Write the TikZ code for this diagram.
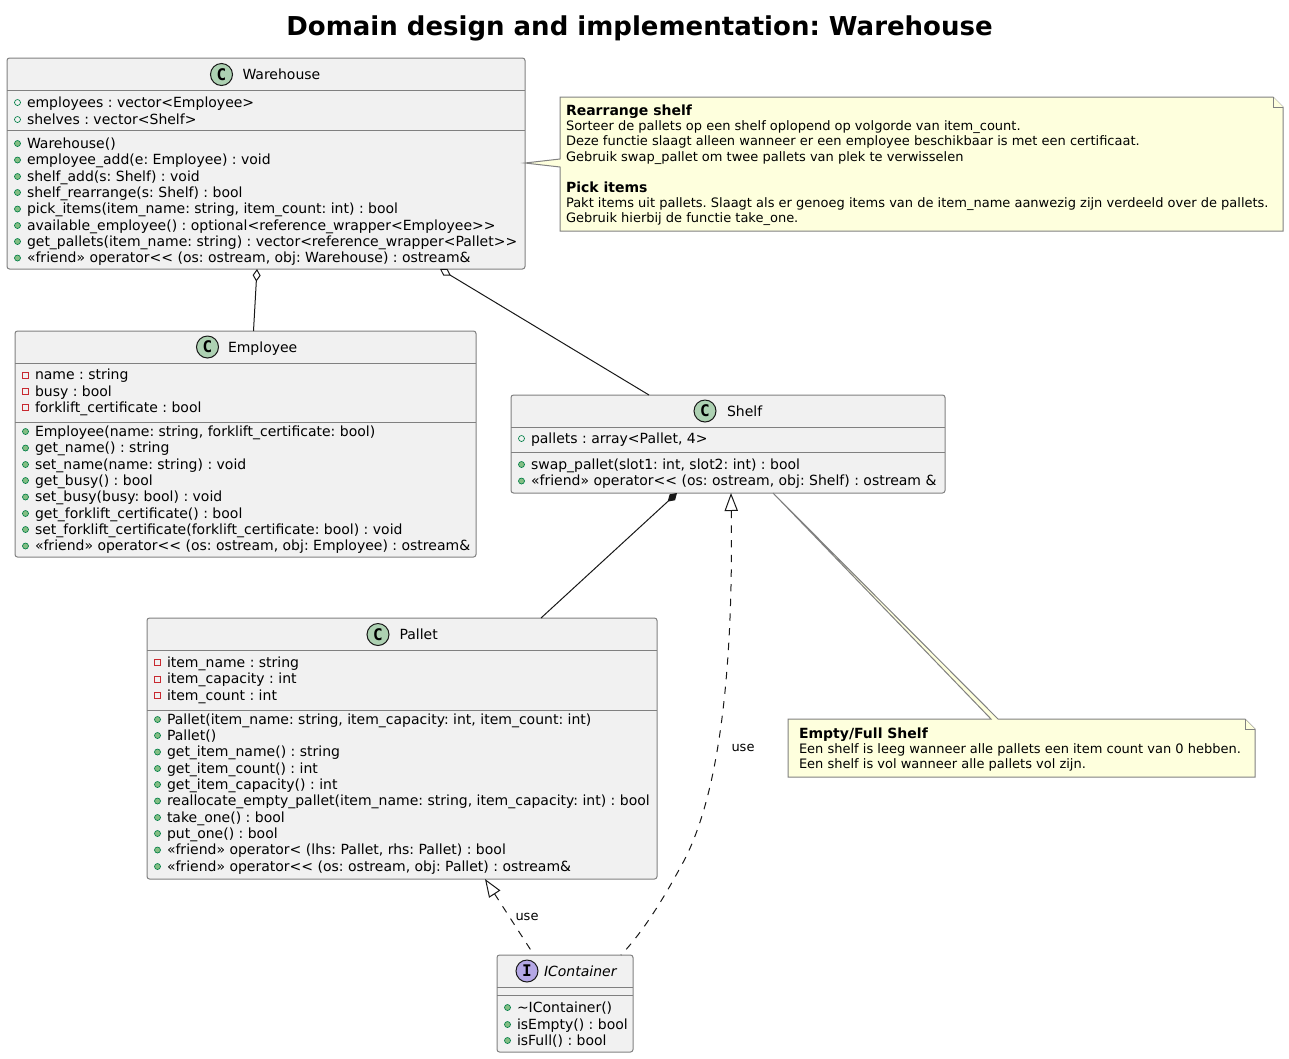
\documentclass[tikz,border=0pt]{standalone}
\usepackage{fontspec}
\setmainfont{DejaVu Sans}[Ligatures=TeXOff]
\newfontfamily\iconfont{DejaVu Sans Mono}
\frenchspacing
\usetikzlibrary{arrows.meta,calc}
\definecolor{boxfill}{HTML}{F1F1F1}
\definecolor{boxline}{HTML}{181818}
\definecolor{notefill}{HTML}{FEFFDD}
\definecolor{clsicon}{HTML}{ADD1B2}
\definecolor{ifcicon}{HTML}{B4A7E5}
\definecolor{pubfill}{HTML}{84BE84}
\definecolor{publine}{HTML}{038048}
\definecolor{privline}{HTML}{C82930}
\tikzset{x=0.75pt,y=-0.75pt,
 classbox/.style={draw=boxline!55!white,fill=boxfill,line width=0.75pt,rounded corners=1.9pt,anchor=north west,inner sep=0pt,outer sep=0pt},
 rowtext/.style={anchor=base west,inner sep=0pt,outer sep=0pt,font=\fontsize{10.5}{12}\selectfont},
 classname/.style={anchor=base west,inner sep=0pt,outer sep=0pt,font=\fontsize{10.5}{12}\selectfont},
 notetext/.style={anchor=base west,inner sep=0pt,outer sep=0pt,font=\fontsize{9.75}{12}\selectfont},
 notebold/.style={anchor=base west,inner sep=0pt,outer sep=0pt,font=\fontsize{10.5}{12}\selectfont\bfseries},
 linklabel/.style={anchor=center,inner sep=0pt,outer sep=0pt,font=\fontsize{9.75}{12}\selectfont},
 sepline/.style={draw=boxline!55!white,line width=0.75pt},
 notebody/.style={draw=boxline!55!white,fill=notefill,line width=0.75pt,line join=miter},
 link/.style={draw=boxline,line width=0.75pt},
 dashlink/.style={draw=boxline,line width=0.75pt,dash pattern=on 5.5pt off 5.5pt},
 aggtip/.style={{Diamond[open,fill=white,length=9.5pt,width=6pt]}-},
 comptip/.style={{Diamond[fill=boxline,length=9.5pt,width=6pt]}-},
 realtip/.style={{Triangle[open,fill=white,length=13.5pt,width=10pt]}-},
 icon/.style={circle,draw=boxline,line width=0.75pt,minimum size=16.5pt,inner sep=0pt,outer sep=0pt,font=\fontsize{12}{12}\selectfont\iconfont\bfseries}
}
% \classicon{name}{x}{y}{colour}{letter}
\newcommand{\classicon}[5]{\node[icon,fill=#4] (#1) at (#2,#3) {#5};}
% rows: marker + text
\newcommand{\rowpub}[4]{\fill[pubfill,draw=publine,line width=0.5pt] (#2-9.5,#3-4.5) circle[radius=2.25pt];\node[rowtext] (#1) at (#2,#3) {#4};}
\newcommand{\rowfld}[4]{\draw[publine,line width=0.5pt] (#2-9.5,#3-4.5) circle[radius=2.25pt];\node[rowtext] (#1) at (#2,#3) {#4};}
\newcommand{\rowprv}[4]{\draw[privline,line width=0.5pt] (#2-12.5,#3-7.5) rectangle ++(6,6);\node[rowtext] (#1) at (#2,#3) {#4};}
\begin{document}
\begin{tikzpicture}
\useasboundingbox (0,0) rectangle (1289,1058);
\node[anchor=base,inner sep=0pt,font=\fontsize{19.5}{24}\selectfont\bfseries] (title) at (639.5,35) {Domain design and implementation: Warehouse};

\node[classbox,minimum width=518*0.75pt,minimum height=211*0.75pt] (wh) at (7,58) {};
\node[classbox,minimum width=461*0.75pt,minimum height=226*0.75pt] (emp) at (15,331) {};
\node[classbox,minimum width=434*0.75pt,minimum height=98*0.75pt] (shelf) at (511,395) {};
\node[classbox,minimum width=510*0.75pt,minimum height=261*0.75pt] (pal) at (147,618) {};
\node[classbox,minimum width=136*0.75pt,minimum height=97*0.75pt] (ifc) at (497,955) {};

% Warehouse
\draw[sepline] (wh.north west |- 0,90.5) -- (wh.north east |- 0,90.5);
\draw[sepline] (wh.north west |- 0,130) -- (wh.north east |- 0,130);
\classicon{whicon}{221.5}{74.5}{clsicon}{C}
\node[classname] (whname) at (242.5,79.5) {Warehouse};
\rowfld{wh1}{27}{107}{employees : vector<Employee>}
\rowfld{wh2}{27}{124}{shelves : vector<Shelf>}
\rowpub{wh3}{27}{148}{Warehouse()}
\rowpub{wh4}{27}{164.5}{employee\_add(e: Employee) : void}
\rowpub{wh5}{27}{181}{shelf\_add(s: Shelf) : void}
\rowpub{wh6}{27}{197}{shelf\_rearrange(s: Shelf) : bool}
\rowpub{wh7}{27}{213.5}{pick\_items(item\_name: string, item\_count: int) : bool}
\rowpub{wh8}{27}{230}{available\_employee() : optional<reference\_wrapper<Employee>>}
\rowpub{wh9}{27}{246}{get\_pallets(item\_name: string) : vector<reference\_wrapper<Pallet>>}
\rowpub{wh10}{27}{262.5}{«friend» operator<< (os: ostream, obj: Warehouse) : ostream\&}

% Employee
\draw[sepline] (emp.north west |- 0,363.5) -- (emp.north east |- 0,363.5);
\draw[sepline] (emp.north west |- 0,422) -- (emp.north east |- 0,422);
\classicon{empicon}{207.5}{347}{clsicon}{C}
\node[classname] (empname) at (228,352) {Employee};
\rowprv{emp1}{35}{379.5}{name : string}
\rowprv{emp2}{35}{396}{busy : bool}
\rowprv{emp3}{35}{412}{forklift\_certificate : bool}
\rowpub{emp4}{35}{436}{Employee(name: string, forklift\_certificate: bool)}
\rowpub{emp5}{35}{452.5}{get\_name() : string}
\rowpub{emp6}{35}{469}{set\_name(name: string) : void}
\rowpub{emp7}{35}{485}{get\_busy() : bool}
\rowpub{emp8}{35}{501.5}{set\_busy(busy: bool) : void}
\rowpub{emp9}{35}{518}{get\_forklift\_certificate() : bool}
\rowpub{emp10}{35}{534}{set\_forklift\_certificate(forklift\_certificate: bool) : void}
\rowpub{emp11}{35}{550.5}{«friend» operator<< (os: ostream, obj: Employee) : ostream\&}

% Shelf
\draw[sepline] (shelf.north west |- 0,427.5) -- (shelf.north east |- 0,427.5);
\draw[sepline] (shelf.north west |- 0,452) -- (shelf.north east |- 0,452);
\classicon{shelficon}{705}{411}{clsicon}{C}
\node[classname] (shelfname) at (727,416) {Shelf};
\rowfld{shelf1}{531}{443}{pallets : array<Pallet, 4>}
\rowpub{shelf2}{531}{469}{swap\_pallet(slot1: int, slot2: int) : bool}
\rowpub{shelf3}{531}{485.5}{«friend» operator<< (os: ostream, obj: Shelf) : ostream \&}

% Pallet
\draw[sepline] (pal.north west |- 0,650.5) -- (pal.north east |- 0,650.5);
\draw[sepline] (pal.north west |- 0,710) -- (pal.north east |- 0,710);
\classicon{palicon}{378}{634.5}{clsicon}{C}
\node[classname] (palname) at (399.5,639.5) {Pallet};
\rowprv{pal1}{167}{667}{item\_name : string}
\rowprv{pal2}{167}{683.5}{item\_capacity : int}
\rowprv{pal3}{167}{700}{item\_count : int}
\rowpub{pal4}{167}{724}{Pallet(item\_name: string, item\_capacity: int, item\_count: int)}
\rowpub{pal5}{167}{740}{Pallet()}
\rowpub{pal6}{167}{756.5}{get\_item\_name() : string}
\rowpub{pal7}{167}{773}{get\_item\_count() : int}
\rowpub{pal8}{167}{789}{get\_item\_capacity() : int}
\rowpub{pal9}{167}{805.5}{reallocate\_empty\_pallet(item\_name: string, item\_capacity: int) : bool}
\rowpub{pal10}{167}{822}{take\_one() : bool}
\rowpub{pal11}{167}{838}{put\_one() : bool}
\rowpub{pal12}{167}{854.5}{«friend» operator< (lhs: Pallet, rhs: Pallet) : bool}
\rowpub{pal13}{167}{871}{«friend» operator<< (os: ostream, obj: Pallet) : ostream\&}

% IContainer
\draw[sepline] (ifc.north west |- 0,987) -- (ifc.north east |- 0,987);
\draw[sepline] (ifc.north west |- 0,995) -- (ifc.north east |- 0,995);
\classicon{ifcicon1}{527}{971}{ifcicon}{I}
\node[classname] (ifcname) at (544,976) {\itshape IContainer};
\rowpub{ifc1}{517}{1012}{\textasciitilde IContainer()}
\rowpub{ifc2}{517}{1029}{isEmpty() : bool}
\rowpub{ifc3}{517}{1045}{isFull() : bool}

% Notes
\node[inner sep=0pt,outer sep=0pt,minimum width=723*0.75pt,minimum height=134*0.75pt,anchor=north west] (noteA) at (560,97) {};
\draw[notebody] (noteA.north west) -- ($(noteA.north east)+(-10,0)$) -- ($(noteA.north east)+(0,10)$) -- (noteA.south east) -- (noteA.south west) -- ($(noteA.north west)+(0,70)$) -- ($(wh.north east)+(0,105)$) -- ($(noteA.north west)+(0,62)$) -- cycle;
\draw[notebody] ($(noteA.north east)+(-10,0)$) -- ($(noteA.north east)+(-10,10)$) -- ($(noteA.north east)+(0,10)$);
\node[notebold] (na0) at (566,115) {Rearrange shelf};
\node[notetext] (na1) at (566,130.5) {Sorteer de pallets op een shelf oplopend op volgorde van item\_count.};
\node[notetext] (na2) at (566,145.5) {Deze functie slaagt alleen wanneer er een employee beschikbaar is met een certificaat.};
\node[notetext] (na3) at (566,161) {Gebruik swap\_pallet om twee pallets van plek te verwisselen};
\node[notebold] (na4) at (566,192) {Pick items};
\node[notetext] (na5) at (566,207) {Pakt items uit pallets. Slaagt als er genoeg items van de item\_name aanwezig zijn verdeeld over de pallets.};
\node[notetext] (na6) at (566,222.5) {Gebruik hierbij de functie take\_one.};

\node[inner sep=0pt,outer sep=0pt,minimum width=467*0.75pt,minimum height=58*0.75pt,anchor=north west] (noteB) at (788,719) {};
\draw[notebody] (noteB.north west) -- ($(noteB.north west)+(203,0)$) -- ($(shelf.south east)+(-172,0)$) -- ($(noteB.north west)+(210,0)$) -- ($(noteB.north east)+(-10,0)$) -- ($(noteB.north east)+(0,10)$) -- (noteB.south east) -- (noteB.south west) -- cycle;
\draw[notebody] ($(noteB.north east)+(-10,0)$) -- ($(noteB.north east)+(-10,10)$) -- ($(noteB.north east)+(0,10)$);
\node[notebold] (nb0) at (799,738) {Empty/Full Shelf};
\node[notetext] (nb1) at (799,753) {Een shelf is leeg wanneer alle pallets een item count van 0 hebben.};
\node[notetext] (nb2) at (799,768.5) {Een shelf is vol wanneer alle pallets vol zijn.};

% Connectors
\draw[link,aggtip] ($(wh.south west)+(250,0)$) -- ($(emp.north west)+(238.5,0)$);
\draw[link,aggtip] ($(wh.south west)+(433,0)$) -- ($(shelf.north west)+(138,0)$);
\draw[link,comptip] ($(shelf.south west)+(166,0)$) -- ($(pal.north west)+(394,0)$);
\draw[dashlink,realtip] ($(shelf.south west)+(220,0)$) .. controls (733,640) and (725,790) .. (680,868) .. controls (667,892) and (645,930) .. ($(ifc.north west)+(124,0)$);
\draw[dashlink,realtip] ($(pal.south west)+(338,0)$) -- ($(ifc.north west)+(37,0)$);
\node[linklabel] (use1) at (743,748) {use};
\node[linklabel] (use2) at (527,917) {use};
\end{tikzpicture}
\end{document}
